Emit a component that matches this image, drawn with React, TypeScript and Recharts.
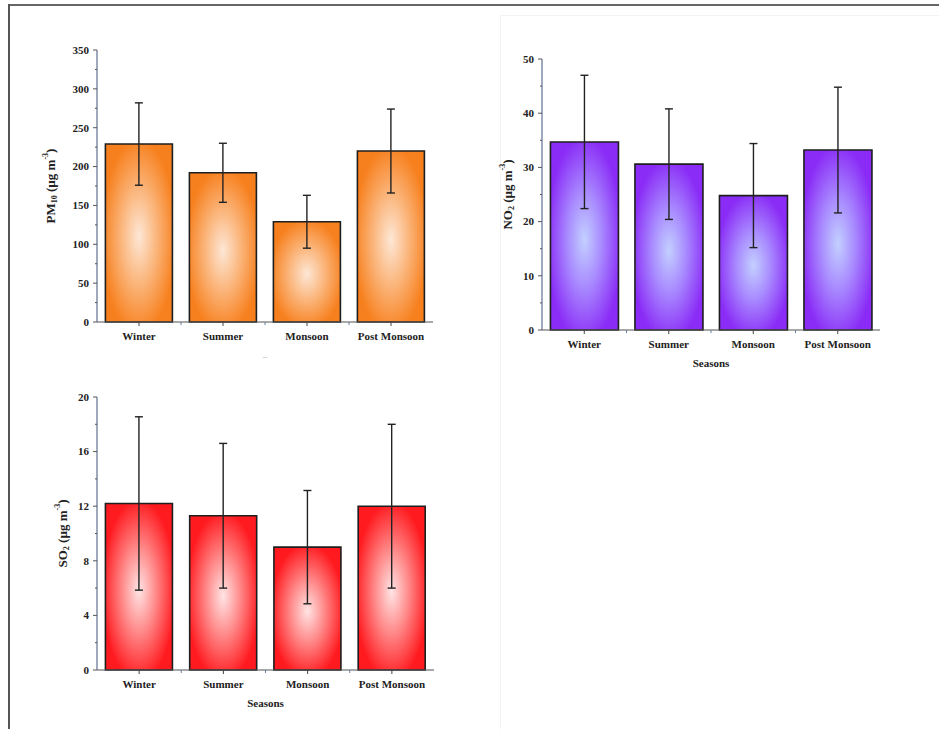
import { BarChart, Bar, XAxis, YAxis, ErrorBar } from 'recharts';

const seasons = ['Winter', 'Summer', 'Monsoon', 'Post Monsoon'];

const pm10Mean = [229, 192, 129, 220];
const pm10Sd = [53, 38, 34, 54];
const no2Mean = [34.7, 30.6, 24.8, 33.2];
const no2Sd = [12.3, 10.2, 9.6, 11.6];
const so2Mean = [12.2, 11.3, 9.0, 12.0];
const so2Sd = [6.35, 5.3, 4.15, 6.0];

// all tick positions (majors are labelled, the rest are minor marks)
const pm10Ticks = [0, 25, 50, 75, 100, 125, 150, 175, 200, 225, 250, 275, 300, 325, 350];
const no2Ticks = [0, 5, 10, 15, 20, 25, 30, 35, 40, 45, 50];
const so2Ticks = [0, 2, 4, 6, 8, 10, 12, 14, 16, 18, 20];

const FONT = '"Liberation Serif", "Times New Roman", serif';

const buildRows = (mean: number[], sd: number[]) =>
  seasons.map((season, i) => ({ season, mean: mean[i], sd: sd[i] }));

const makeYTick = (major: number) => (p: any) => {
  const v = p.payload.value;
  const isMajor = Math.abs(v % major) < 1e-6;
  return (
    <g>
      <line x1={p.x} x2={p.x - (isMajor ? 4 : 2)} y1={p.y} y2={p.y} stroke="#555" strokeWidth={1} />
      {isMajor && (
        <text x={p.x - 8} y={p.y} dy="0.35em" textAnchor="end" fontFamily={FONT} fontWeight="bold" fontSize={11} fill="#222">
          {v}
        </text>
      )}
    </g>
  );
};

const makeXTick = (step: number) => (p: any) => (
  <g>
    <line x1={p.x} x2={p.x} y1={p.y} y2={p.y + 4} stroke="#444" />
    {p.index < 3 && (
      <line x1={p.x + step / 2} x2={p.x + step / 2} y1={p.y} y2={p.y + 3} stroke="#6a7fa8" />
    )}
    <text x={p.x} y={p.y + 18} textAnchor="middle" fontFamily={FONT} fontWeight="bold" fontSize={11} fill="#222">
      {p.payload.value}
    </text>
  </g>
);

interface PanelProps {
  id: string;
  left: number;
  top: number;
  width: number;
  height: number;
  plotTop: number;
  plotW: number;
  plotH: number;
  yAxisW: number;
  labelX: number;
  mean: number[];
  sd: number[];
  ticks: number[];
  major: number;
  inner: string;
  mid: string;
  edge: string;
  frame: string;
  species: string;
  sub: string;
  xLabel: string;
  xLabelSize: number;
  xLabelColor: string;
}

const Panel = (c: PanelProps) => {
  const data = buildRows(c.mean, c.sd);
  const max = c.ticks[c.ticks.length - 1];
  const bottom = c.height - c.plotTop - c.plotH;
  const right = c.width - c.yAxisW - c.plotW;
  return (
    <div style={{ position: 'absolute', left: c.left, top: c.top }}>
      <BarChart
        width={c.width}
        height={c.height}
        data={data}
        barCategoryGap="10%"
        margin={{ top: c.plotTop, right, bottom: 0, left: 0 }}
      >
        <defs>
          <radialGradient id={c.id} cx="50%" cy="52%" r="55%">
            <stop offset="0%" stopColor={c.inner} />
            <stop offset="45%" stopColor={c.mid} />
            <stop offset="100%" stopColor={c.edge} />
          </radialGradient>
        </defs>
        <XAxis
          dataKey="season"
          interval={0}
          height={bottom}
          tickLine={false}
          tickSize={0}
          tickMargin={0}
          axisLine={{ stroke: '#555', strokeWidth: 1.2 }}
          tick={makeXTick(c.plotW / 4)}
          label={{
            content: (p: any) => (
              <text
                x={p.viewBox.x + p.viewBox.width / 2}
                y={p.viewBox.y + 37}
                textAnchor="middle"
                fontFamily={FONT}
                fontWeight="bold"
                fontSize={c.xLabelSize}
                fill={c.xLabelColor}
              >
                {c.xLabel}
              </text>
            ),
          }}
        />
        <XAxis xAxisId="top" dataKey="season" orientation="top" height={0} tick={false} tickLine={false} axisLine={{ stroke: c.frame, strokeWidth: 1.5 }} />
        <YAxis
          domain={[0, max]}
          ticks={c.ticks}
          interval={0}
          width={c.yAxisW}
          tickLine={false}
          tickSize={0}
          tickMargin={0}
          axisLine={{ stroke: '#5f6f8f', strokeWidth: 1.2 }}
          tick={makeYTick(c.major)}
          label={{
            content: (p: any) => {
              const cx = c.labelX;
              const cy = p.viewBox.y + p.viewBox.height / 2;
              return (
                <text
                  x={cx}
                  y={cy}
                  transform={`rotate(-90 ${cx} ${cy})`}
                  textAnchor="middle"
                  dominantBaseline="central"
                  fontFamily={FONT}
                  fontWeight="bold"
                  fontSize={13}
                  fill="#222"
                >
                  {c.species}
                  <tspan baselineShift="sub" fontSize={8}>{c.sub}</tspan>
                  <tspan> (µg m</tspan>
                  <tspan baselineShift="super" fontSize={8}>-3</tspan>
                  <tspan>)</tspan>
                </text>
              );
            },
          }}
        />
        <YAxis yAxisId="right" orientation="right" domain={[0, max]} width={0} tick={false} tickLine={false} axisLine={{ stroke: c.frame, strokeWidth: 1.5 }} />
        <Bar dataKey="mean" fill={`url(#${c.id})`} stroke="#1e1e1e" strokeWidth={1.6} isAnimationActive={false}>
          <ErrorBar dataKey="sd" direction="y" width={4} stroke="#222" strokeWidth={1.4} />
        </Bar>
      </BarChart>
    </div>
  );
};

export default function App() {
  return (
    <div style={{ position: 'absolute', left: 0, top: 0, width: 939, height: 729, background: '#fff', overflow: 'hidden' }}>
      <div style={{ position: 'absolute', left: 8, top: 4, width: 931, height: 2, background: '#666' }} />
      <div style={{ position: 'absolute', left: 8, top: 4, width: 2, height: 725, background: '#555' }} />
      <div style={{ position: 'absolute', left: 500, top: 15, width: 439, height: 1, background: '#f3f3f3' }} />
      <div style={{ position: 'absolute', left: 500, top: 15, width: 1, height: 714, background: '#f3f3f3' }} />

      <Panel
        id="gPm"
        left={20}
        top={30}
        width={430}
        height={340}
        plotTop={20}
        plotW={336}
        plotH={272}
        yAxisW={77}
        labelX={30}
        mean={pm10Mean}
        sd={pm10Sd}
        ticks={pm10Ticks}
        major={50}
        inner="#fde7d6"
        mid="#fbb982"
        edge="#f7801e"
        frame="#aaaaaa"
        species="PM"
        sub="10"
        xLabel="--"
        xLabelSize={7}
        xLabelColor="#aaa"
      />
      <Panel
        id="gNo"
        left={470}
        top={30}
        width={430}
        height={350}
        plotTop={29}
        plotW={338}
        plotH={271}
        yAxisW={72}
        labelX={37}
        mean={no2Mean}
        sd={no2Sd}
        ticks={no2Ticks}
        major={10}
        inner="#c3d0ff"
        mid="#a98cff"
        edge="#8a2cf6"
        frame="#555555"
        species="NO"
        sub="2"
        xLabel="Seasons"
        xLabelSize={11}
        xLabelColor="#222"
      />
      <Panel
        id="gSo"
        left={20}
        top={370}
        width={430}
        height={350}
        plotTop={27}
        plotW={337}
        plotH={273}
        yAxisW={77}
        labelX={42}
        mean={so2Mean}
        sd={so2Sd}
        ticks={so2Ticks}
        major={4}
        inner="#ffe4e4"
        mid="#ff8c8c"
        edge="#ff1a1f"
        frame="#999999"
        species="SO"
        sub="2"
        xLabel="Seasons"
        xLabelSize={11}
        xLabelColor="#222"
      />
    </div>
  );
}
